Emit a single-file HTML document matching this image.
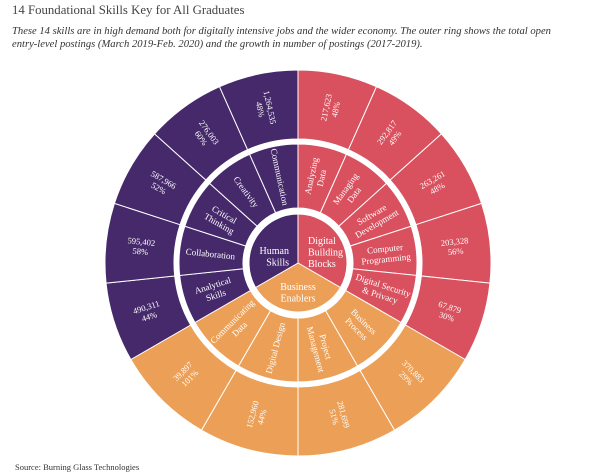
<!DOCTYPE html>
<html><head><meta charset="utf-8">
<style>
body{margin:0;width:600px;height:475px;background:#fff;overflow:hidden;font-family:"Liberation Serif",serif;}
#title{position:absolute;left:12px;top:3px;font-size:12.8px;color:#444;}
#sub{position:absolute;left:12px;top:25px;width:580px;font-size:10.6px;line-height:13px;font-style:italic;color:#333;}
#src{position:absolute;left:15px;top:462px;font-size:8.5px;color:#333;}
svg{position:absolute;left:0;top:0;}
</style></head><body>
<div id="title">14 Foundational Skills Key for All Graduates</div>
<div id="sub">These 14 skills are in high demand both for digitally intensive jobs and the wider economy. The outer ring shows the total open <span style="white-space:nowrap">entry-level</span> postings (March 2019-Feb. 2020) and the growth in number of postings (2017-2019).</div>
<div id="src">Source: Burning Glass Technologies</div>
<svg id="chart" width="600" height="475"></svg>
<script>
const groups = ["Digital Building Blocks","Business Enablers","Human Skills"];
const groupColors = ["#d9505f","#eca057","#45296b"];
const skills = ["Analyzing Data","Managing Data","Software Development","Computer Programming","Digital Security & Privacy","Business Process","Project Management","Digital Design","Communicating Data","Analytical Skills","Collaboration","Critical Thinking","Creativity","Communication"];
const skillGroup = [0,0,0,0,0,1,1,1,1,2,2,2,2,2];
const postings = ["217,623","292,817","263,261","203,328","67,879","370,883","281,699","152,960","39,897","490,311","595,402","587,966","276,003","1,264,535"];
const growth = ["48%","49%","48%","56%","30%","29%","51%","44%","101%","44%","58%","52%","60%","48%"];
const skillLines = [["Analyzing","Data"],["Managing","Data"],["Software","Development"],["Computer","Programming"],["Digital Security","& Privacy"],["Business","Process"],["Project","Management"],["Digital Design"],["Communicating","Data"],["Analytical","Skills"],["Collaboration"],["Critical","Thinking"],["Creativity"],["Communication"]];

const svg=document.getElementById('chart');
const NS='http://www.w3.org/2000/svg';
const cx=298, cy=263, R0=49, R1=55, R2=119, R3=124, R4=193;
function pt(r,a){const t=a*Math.PI/180;return [cx+r*Math.sin(t),cy-r*Math.cos(t)];}
function arc(r1,r2,a1,a2){const [x1,y1]=pt(r2,a1),[x2,y2]=pt(r2,a2),[x3,y3]=pt(r1,a2),[x4,y4]=pt(r1,a1);const l=(a2-a1)>180?1:0;
 if(r1<=0)return `M${cx},${cy}L${x1},${y1}A${r2},${r2} 0 ${l} 1 ${x2},${y2}Z`;
 return `M${x1},${y1}A${r2},${r2} 0 ${l} 1 ${x2},${y2}L${x3},${y3}A${r1},${r1} 0 ${l} 0 ${x4},${y4}Z`;}
function mk(tag,attrs){const e=document.createElementNS(NS,tag);for(const k in attrs)e.setAttribute(k,attrs[k]);svg.appendChild(e);return e;}
function label(lines,x,y,rot,size,anchor){const t=mk('text',{x:x,y:y,fill:'#fff','font-size':size,'text-anchor':anchor||'middle','font-family':'Liberation Serif, serif',transform:`rotate(${rot} ${x} ${y})`});
 const n=lines.length;lines.forEach((s,i)=>{const ts=document.createElementNS(NS,'tspan');ts.setAttribute('x',x);ts.setAttribute('y',y+(i-(n-1)/2)*size*1.15+size*0.35);ts.textContent=s;t.appendChild(ts);});return t;}
const counts=groups.map((g,i)=>skillGroup.filter(s=>s===i).length);
const gStart=[],gEnd=[];let acc=0;groups.forEach((g,i)=>{gStart.push(acc*120);acc++;gEnd.push(acc*120);});
const sStart=[],sEnd=[];
skills.forEach((s,i)=>{const g=skillGroup[i];const idx=skillGroup.slice(0,i).filter(x=>x===g).length;const w=120/counts[g];sStart.push(gStart[g]+idx*w);sEnd.push(gStart[g]+(idx+1)*w);});
function rotFor(a){return a<180?a-90:a-270;}
groups.forEach((g,i)=>{const p=mk('path',{d:arc(0,R0,gStart[i],gEnd[i]),fill:groupColors[i],stroke:'#fff','stroke-width':1});

});
const gl=[["Digital","Building","Blocks"],["Business","Enablers"],["Human","Skills"]];
const gpos=[[308,252,'start'],[298,292,'middle'],[289,256,'end']];
groups.forEach((g,i)=>{const t=label(gl[i],gpos[i][0],gpos[i][1],0,10,gpos[i][2]);

});
skills.forEach((s,i)=>{const c=groupColors[skillGroup[i]];const a=(sStart[i]+sEnd[i])/2;
 const p=mk('path',{d:arc(R1,R2,sStart[i],sEnd[i]),fill:c,stroke:'#fff','stroke-width':1});
 
 
 const q=mk('path',{d:arc(R3,R4,sStart[i],sEnd[i]),fill:c,stroke:'#fff','stroke-width':1});
 
 
 const [mx,my]=pt(88,a);const t1=label(skillLines[i],mx,my,rotFor(a),9);
 
 
 const [ox,oy]=pt(158,a);const t2=label([postings[i],growth[i]],ox,oy,rotFor(a),8.5);
 
 
});
</script>
</body></html>
